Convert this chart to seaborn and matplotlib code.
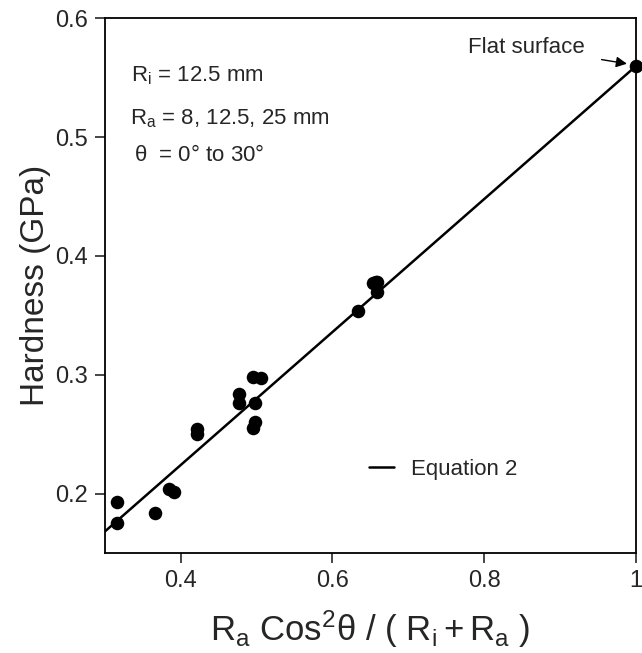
import matplotlib
matplotlib.use("Agg")
import matplotlib.pyplot as plt
import seaborn as sns
import pandas as pd

geometry_factor = [0.316, 0.316, 0.366, 0.385, 0.391, 0.421, 0.421,
                   0.477, 0.477, 0.496, 0.506, 0.498, 0.498, 0.495,
                   0.633, 0.653, 0.657, 0.659, 0.658, 1.0]
hardness = [0.193, 0.175, 0.184, 0.204, 0.2015, 0.2545, 0.2505,
            0.284, 0.276, 0.298, 0.297, 0.276, 0.260, 0.2555,
            0.354, 0.377, 0.378, 0.378, 0.370, 0.560]

# Equation 2 end points.
eq_x = [0.3, 1.0]
eq_y = [0.168, 0.560]

x_ticks = [0.4, 0.6, 0.8, 1.0]
x_tick_labels = ["0.4", "0.6", "0.8", "1"]
y_ticks = [0.2, 0.3, 0.4, 0.5, 0.6]

sns.set_style("ticks")
plt.rcParams["font.family"] = ["Liberation Sans", "DejaVu Sans"]
plt.rcParams["mathtext.fontset"] = "custom"
plt.rcParams["mathtext.rm"] = "Liberation Sans"
plt.rcParams["mathtext.it"] = "Liberation Sans"
plt.rcParams["mathtext.bf"] = "Liberation Sans:bold"

points = pd.DataFrame({"x": geometry_factor, "y": hardness})
fit = pd.DataFrame({"x": eq_x, "y": eq_y})

fig = plt.figure(figsize=(6.42, 6.53), dpi=100)
ax = fig.add_axes([0.163, 0.153, 0.828, 0.819])

sns.lineplot(data=fit, x="x", y="y", ax=ax, color="black", linewidth=1.8,
             label="Equation 2")
sns.scatterplot(data=points, x="x", y="y", ax=ax, color="black", s=95,
                edgecolor="black", linewidth=0, legend=False, clip_on=False)

ax.set_xlim(0.3, 1.0)
ax.set_ylim(0.15, 0.6)
ax.set_xticks(x_ticks)
ax.set_xticklabels(x_tick_labels)
ax.set_yticks(y_ticks)
ax.set_yticklabels([f"{v:.1f}" for v in y_ticks])
ax.tick_params(direction="out", length=7, width=1.2, labelsize=17, pad=5)
for side in ax.spines.values():
    side.set_linewidth(1.3)
    side.set_color("black")

ax.set_xlabel(r"$\mathregular{R_a\ Cos^2\theta\ /\ (\ R_i + R_a\ )}$",
              fontsize=25, labelpad=12)
ax.set_ylabel("Hardness (GPa)", fontsize=24, labelpad=3)

ax.text(0.05, 0.893, r"$\mathregular{R_i}$ = 12.5 mm", transform=ax.transAxes,
        fontsize=16, va="center")
ax.text(0.047, 0.813, r"$\mathregular{R_a}$ = 8, 12.5, 25 mm",
        transform=ax.transAxes, fontsize=16, va="center")
ax.text(0.055, 0.744, r"$\mathregular{\theta}$  = 0° to 30°",
        transform=ax.transAxes, fontsize=16, va="center")

ax.annotate("Flat surface", xy=(0.995, 0.561), xytext=(0.932, 0.5756),
            ha="right", va="center", fontsize=16,
            arrowprops=dict(arrowstyle="-|>", color="black", lw=1.0,
                            mutation_scale=16, shrinkA=10, shrinkB=4))

ax.legend(loc="lower left", bbox_to_anchor=(0.46, 0.1), frameon=False,
          fontsize=16, handlelength=1.1, handletextpad=0.8)

fig.savefig("out.png", dpi=100)
